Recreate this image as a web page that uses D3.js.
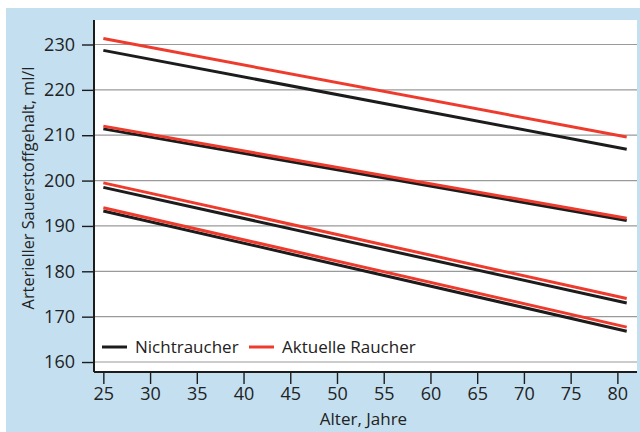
<!DOCTYPE html>
<html lang="de">
<head>
<meta charset="UTF-8" />
<title>Arterieller Sauerstoffgehalt</title>
<script src="https://d3js.org/d3.v7.min.js"></script>
<style>
  html, body { margin: 0; padding: 0; background: #fff; }
  svg { display: block; font-family: "Open Sans", sans-serif; }
</style>
</head>
<body>
<svg id="chart" width="640" height="432"></svg>
<script>
// Alter (Jahre) an Anfang und Ende der Geraden
const ages = [25, 81];
// vier Geradenpaare, je Nichtraucher / aktuelle Raucher (Werte bei 25 und 81 Jahren)
const nichtraucher = [
  [228.7, 206.9],
  [211.4, 191.2],
  [198.5, 173.0],
  [193.3, 166.8]
];
const raucher = [
  [231.3, 209.6],
  [212.0, 191.7],
  [199.5, 174.0],
  [194.0, 167.7]
];
const xTicks = [25, 30, 35, 40, 45, 50, 55, 60, 65, 70, 75, 80];
const yTicks = [160, 170, 180, 190, 200, 210, 220, 230];
const legendLabels = ["Nichtraucher", "Aktuelle Raucher"];
const colors = ["#1c1c1c", "#ee3b2d"];

const svg = d3.select("#chart");
const plotLeft = 94, plotRight = 637, plotTop = 20, plotBottom = 372;

// blauer Hintergrund + weisse Zeichenfläche
svg.append("rect").attr("x", 6).attr("y", 8).attr("width", 634).attr("height", 424).attr("fill", "#c3dff0");
svg.append("rect").attr("x", plotLeft).attr("y", plotTop)
  .attr("width", plotRight - plotLeft).attr("height", plotBottom - plotTop).attr("fill", "#fff");

const x = d3.scaleLinear().domain([24, 82.1]).range([plotLeft, plotRight]);
const y = d3.scaleLinear().domain([157.8, 235.4]).range([plotBottom, plotTop]);

// Gitterlinien
svg.append("g")
  .selectAll("line")
  .data(yTicks)
  .join("line")
  .attr("x1", plotLeft).attr("x2", plotRight)
  .attr("y1", d => y(d)).attr("y2", d => y(d))
  .attr("stroke", "#9a9a9a").attr("stroke-width", 1.2);

const line = d3.line().x(d => x(d[0])).y(d => y(d[1]));

function drawSeries(series, color) {
  svg.append("g")
    .selectAll("path")
    .data(series)
    .join("path")
    .attr("d", d => line(ages.map((a, i) => [a, d[i]])))
    .attr("fill", "none")
    .attr("stroke", color)
    .attr("stroke-width", 3);
}
drawSeries(nichtraucher, colors[0]);
drawSeries(raucher, colors[1]);

// Achsen
const yAxis = svg.append("g")
  .attr("transform", `translate(${plotLeft},0)`)
  .call(d3.axisLeft(y).tickValues(yTicks).tickSize(12).tickPadding(7));
const xAxis = svg.append("g")
  .attr("transform", `translate(0,${plotBottom})`)
  .call(d3.axisBottom(x).tickValues(xTicks).tickSize(12).tickPadding(3));

[yAxis, xAxis].forEach(g => {
  g.select(".domain").attr("stroke", "#1c1c1c").attr("stroke-width", 2);
  g.selectAll(".tick line").attr("stroke", "#1c1c1c").attr("stroke-width", 1.4);
  g.selectAll(".tick text").attr("fill", "#222").style("font-size", "18px").style("font-family", "Open Sans");
});
yAxis.select(".domain").attr("d", `M0,${plotTop}V${plotBottom}`);
xAxis.select(".domain").attr("d", `M${plotLeft},0H${plotRight}`);

// Achsentitel
svg.append("text")
  .attr("x", (plotLeft + plotRight) / 2 - 2).attr("y", 425)
  .attr("text-anchor", "middle")
  .attr("fill", "#222").style("font-size", "17px")
  .text("Alter, Jahre");

svg.append("text")
  .attr("transform", "translate(34,188) rotate(-90)")
  .attr("text-anchor", "middle")
  .attr("fill", "#222").style("font-size", "16.3px")
  .text("Arterieller Sauerstoffgehalt, ml/l");

// Legende
const legend = svg.append("g").attr("transform", "translate(102,347)");
const legendX = [0, 147];
legendLabels.forEach((label, i) => {
  const g = legend.append("g").attr("transform", `translate(${legendX[i]},0)`);
  g.append("line").attr("x1", 0).attr("x2", 25).attr("y1", 0).attr("y2", 0)
    .attr("stroke", colors[i]).attr("stroke-width", 3);
  g.append("text").attr("x", 33).attr("y", 6)
    .attr("fill", "#222").style("font-size", "17px")
    .text(label);
});
</script>
</body>
</html>
